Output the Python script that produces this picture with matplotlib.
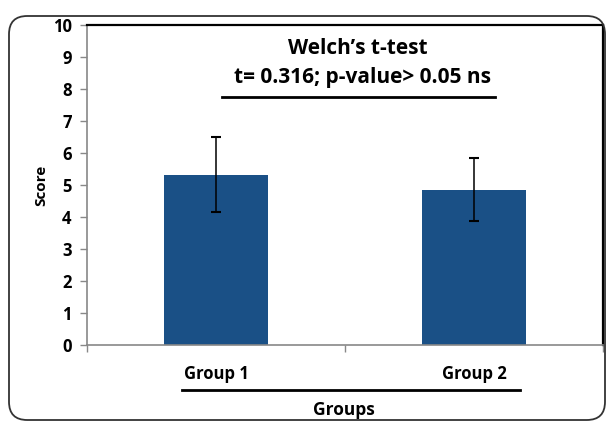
import matplotlib
matplotlib.use("Agg")
import matplotlib.pyplot as plt
from matplotlib.patches import FancyBboxPatch
from matplotlib.lines import Line2D

categories = ["Group 1", "Group 2"]
means = [5.32, 4.85]
errors = [1.17, 0.98]
yticks = list(range(0, 11))

plt.rcParams['font.family'] = ['Open Sans', 'DejaVu Sans']

W, H = 608, 422
fig = plt.figure(figsize=(W/100, H/100), dpi=100)
fig.patch.set_facecolor('white')

def fx(x): return x / W
def fy(y): return 1 - y / H

# outer rounded frame
frame = FancyBboxPatch((fx(9), fy(420)), fx(596), (420-16)/H,
                       boxstyle="round,pad=0,rounding_size=0.03",
                       transform=fig.transFigure, fill=False,
                       edgecolor='#333333', linewidth=1.3, mutation_aspect=W/H)
fig.patches.append(frame)

ax = fig.add_axes([fx(87), fy(345), fx(603-87), (345-25)/H])
x = list(range(len(categories)))
ax.bar(x, means, width=0.4, color='#1A5086', zorder=2)
ax.errorbar(x, means, yerr=errors, fmt='none', ecolor='black',
            elinewidth=1.1, capsize=3.5, capthick=1.5, zorder=3)
ax.set_xlim(-0.5, 1.5)
ax.set_ylim(0, 10)
ax.set_yticks(yticks)
ax.set_yticklabels([str(t) for t in yticks], fontsize=12, fontweight='bold')
ax.set_xticks([-0.5, 0.5, 1.5])
ax.set_xticklabels([])
ax.tick_params(axis='both', direction='out', color='#888888', length=5, width=1)
ax.tick_params(axis='y', pad=6)
for s in ['left', 'bottom']:
    ax.spines[s].set_color('#888888')
    ax.spines[s].set_linewidth(1.2)
for s in ['top', 'right']:
    ax.spines[s].set_color('black')
    ax.spines[s].set_linewidth(1.6)

for xi, c in zip(x, categories):
    ax.text(xi, -0.9, c, ha='center', va='center', fontsize=12,
            fontweight='bold')

ax.set_ylabel('Score', fontsize=11, fontweight='bold', labelpad=3)

# title text
fig.text(fx(358), fy(48), "Welch\u2019s t-test", ha='center', va='center',
         fontsize=15, fontweight='bold')
fig.text(fx(362), fy(78), "t= 0.316; p-value> 0.05 ns", ha='center', va='center',
         fontsize=15, fontweight='bold')
fig.lines.append(Line2D([fx(222), fx(495)], [fy(97), fy(97)],
                        transform=fig.transFigure, color='black', linewidth=2))

# group underline and x label
fig.lines.append(Line2D([fx(182), fx(520)], [fy(390), fy(390)],
                        transform=fig.transFigure, color='black', linewidth=2))
fig.text(fx(344), fy(410), "Groups", ha='center', va='center',
         fontsize=12.5, fontweight='bold')

fig.savefig("out.png", dpi=100)
